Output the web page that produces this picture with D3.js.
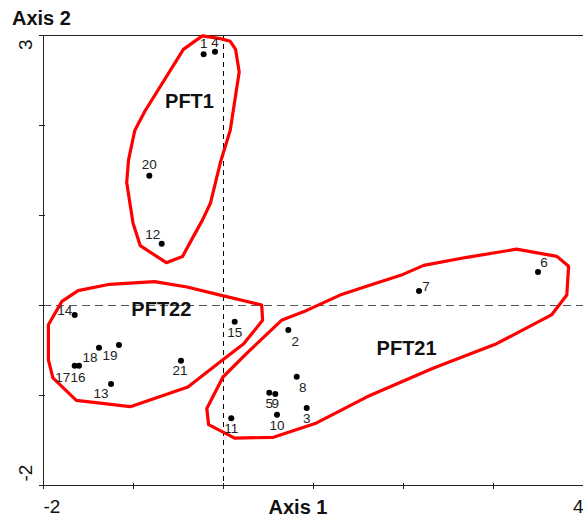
<!DOCTYPE html>
<html>
<head>
<meta charset="utf-8">
<script src="https://cdn.jsdelivr.net/npm/d3@7"></script>
<style>
  body { margin: 0; background: #fff; }
  svg { display: block; font-family: "Liberation Sans", Arial, sans-serif; }
</style>
</head>
<body>
<div id="scatter"></div>
<script>
// Site ordination scores (Axis 1, Axis 2)
var siteIds = ["1", "4", "20", "12", "14", "18", "19", "17", "16", "13", "21",
  "15", "2", "8", "5", "9", "3", "10", "11", "7", "6"];
var axis1 = [-0.215, -0.089, -0.819, -0.681, -1.648, -1.378, -1.156, -1.648, -1.6, -1.244, -0.467,
  0.13, 0.726, 0.819, 0.514, 0.581, 0.93, 0.6, 0.092, 2.178, 3.5];
var axis2 = [2.786, 2.815, 1.437, 0.681, -0.111, -0.474, -0.444, -0.674, -0.674, -0.878, -0.619,
  -0.186, -0.278, -0.796, -0.974, -0.989, -1.144, -1.219, -1.259, 0.156, 0.367];

// Group outlines (hull vertices in axis units)
var groupNames = ["PFT1", "PFT22", "PFT21"];
var pft1Hull = [[-0.23, 2.99], [-0.03, 2.96], [0.08, 2.93], [0.14, 2.84], [0.18, 2.59], [0.08, 1.94],
  [-0.03, 1.58], [-0.14, 1.13], [-0.23, 0.94], [-0.33, 0.76], [-0.45, 0.54], [-0.63, 0.47],
  [-0.92, 0.66], [-1.0, 0.91], [-1.07, 1.36], [-1.05, 1.61], [-0.98, 1.94], [-0.87, 2.15], [-0.44, 2.84]];
var pft22Hull = [[-1.61, 0.16], [-1.26, 0.23], [-0.76, 0.26], [-0.4, 0.2], [-0.03, 0.11], [0.43, 0.0],
  [0.44, -0.17], [0.23, -0.43], [-0.03, -0.63], [-0.39, -0.91], [-1.03, -1.13], [-1.63, -1.06],
  [-1.89, -0.81], [-1.94, -0.61], [-1.94, -0.22], [-1.79, 0.04]];
var pft21Hull = [[0.65, -0.17], [0.93, -0.06], [1.3, 0.11], [1.63, 0.22], [2.0, 0.34], [2.23, 0.44],
  [2.71, 0.53], [3.26, 0.62], [3.71, 0.54], [3.84, 0.43], [3.82, 0.11], [3.65, -0.11], [3.04, -0.43],
  [2.34, -0.7], [1.6, -1.02], [1.04, -1.31], [0.56, -1.47], [0.13, -1.48], [-0.16, -1.33],
  [-0.18, -1.15], [0.0, -0.8], [0.26, -0.54]];
var groupLabelX = [-0.372, -0.685, 2.04];
var groupLabelY = [2.19, -0.119, -0.556];

// Axis ticks
var xTicks = [-2, -1, 0, 1, 2, 3, 4];
var yTicks = [-2, -1, 0, 1, 2, 3];
var xTickLabels = [-2, 4];
var yTickLabels = [-2, 3];

// label offsets around each point (px)
var labelDx = [0, 0, 0, -9, -10, -9, -9, -12, -1, -10, -1, 0, 7, 6, 0, 0, 0, 0, 0, 7, 6];
var labelDy = [-6, -5, -7, -5, 0, 14, 15, 16, 16, 14, 14, 15, 16, 15, 15, 14, 15, 15, 15, 0, -5];

var svgWidth = 583;
var svgHeight = 517;

var margin = { top: 35, right: 0, bottom: 32, left: 43 };
var width = svgWidth - margin.left - margin.right;
var height = svgHeight - margin.top - margin.bottom;

var svg = d3.select("#scatter")
  .append("svg")
  .attr("width", svgWidth)
  .attr("height", svgHeight);

var chartGroup = svg.append("g")
  .attr("transform", `translate(${margin.left}, ${margin.top})`);

var xScale = d3.scaleLinear().domain([-2, 4]).range([0, width]);
var yScale = d3.scaleLinear().domain([-2, 3]).range([height, 0]);

// dashed zero lines
chartGroup.append("line")
  .attr("x1", 0).attr("x2", width)
  .attr("y1", yScale(0) + 0.5).attr("y2", yScale(0) + 0.5)
  .attr("stroke", "#555").attr("stroke-width", 1)
  .attr("stroke-dasharray", "8,5");

chartGroup.append("line")
  .attr("x1", xScale(0) + 0.5).attr("x2", xScale(0) + 0.5)
  .attr("y1", 0).attr("y2", height)
  .attr("stroke", "#000").attr("stroke-width", 1)
  .attr("stroke-dasharray", "5,4");

// top frame line
chartGroup.append("line")
  .attr("x1", 0).attr("x2", width)
  .attr("y1", 0.5).attr("y2", 0.5)
  .attr("stroke", "#222");

// bottom axis
var bottomAxis = d3.axisBottom(xScale)
  .tickValues(xTicks)
  .tickSize(4)
  .tickSizeOuter(0)
  .tickFormat(d => xTickLabels.includes(d) ? d : "");

var xAxis = chartGroup.append("g")
  .attr("transform", `translate(0, ${height})`)
  .call(bottomAxis);

xAxis.select(".domain").attr("stroke", "#222");
xAxis.selectAll(".tick line").attr("y1", -2).attr("stroke", "#222");
xAxis.selectAll(".tick text")
  .attr("y", 28)
  .attr("dy", 0)
  .attr("font-size", 19)
  .attr("font-family", "Liberation Sans, Arial, sans-serif")
  .attr("fill", "#111")
  .attr("text-anchor", d => d === 4 ? "end" : "start");

// left axis
var leftAxis = d3.axisLeft(yScale)
  .tickValues(yTicks)
  .tickSize(4)
  .tickSizeOuter(0)
  .tickFormat(d => yTickLabels.includes(d) ? d : "");

var yAxis = chartGroup.append("g")
  .call(leftAxis);

yAxis.select(".domain").attr("stroke", "#222");
yAxis.selectAll(".tick line").attr("x1", 2).attr("stroke", "#222");
yAxis.selectAll(".tick text")
  .attr("transform", "rotate(-90)")
  .attr("x", d => d === 3 ? -4 : 4)
  .attr("y", -11)
  .attr("dy", 0)
  .attr("font-size", 19)
  .attr("font-family", "Liberation Sans, Arial, sans-serif")
  .attr("fill", "#111")
  .attr("text-anchor", d => d === 3 ? "end" : "start");

// axis titles
svg.append("text")
  .attr("x", 12)
  .attr("y", 25)
  .attr("font-size", 20)
  .attr("font-weight", "bold")
  .attr("fill", "#111")
  .text("Axis 2");

svg.append("text")
  .attr("x", 298)
  .attr("y", 514)
  .attr("text-anchor", "middle")
  .attr("font-size", 20)
  .attr("font-weight", "bold")
  .attr("fill", "#111")
  .text("Axis 1");

// group outlines
var hullLine = d3.line()
  .x(d => xScale(d[0]))
  .y(d => yScale(d[1]))
  .curve(d3.curveLinearClosed);

chartGroup.selectAll(".hull")
  .data([pft1Hull, pft22Hull, pft21Hull])
  .enter()
  .append("path")
  .attr("class", "hull")
  .attr("d", hullLine)
  .attr("fill", "none")
  .attr("stroke", "#ff0000")
  .attr("stroke-width", 3.2)
  .attr("stroke-linejoin", "round");

// points
var siteData = siteIds.map((id, i) => ({ id: id, x: axis1[i], y: axis2[i], dx: labelDx[i], dy: labelDy[i] }));

chartGroup.selectAll("circle")
  .data(siteData)
  .enter()
  .append("circle")
  .attr("cx", d => xScale(d.x))
  .attr("cy", d => yScale(d.y))
  .attr("r", 3)
  .attr("fill", "#000");

chartGroup.selectAll(".site-label")
  .data(siteData)
  .enter()
  .append("text")
  .attr("class", "site-label")
  .attr("x", d => xScale(d.x) + d.dx)
  .attr("y", d => yScale(d.y) + d.dy)
  .attr("text-anchor", "middle")
  .attr("font-size", 13.5)
  .attr("fill", "#222")
  .text(d => d.id);

// group names
chartGroup.selectAll(".group-label")
  .data(groupNames)
  .enter()
  .append("text")
  .attr("class", "group-label")
  .attr("x", (d, i) => xScale(groupLabelX[i]))
  .attr("y", (d, i) => yScale(groupLabelY[i]))
  .attr("text-anchor", "middle")
  .attr("font-size", 20)
  .attr("font-weight", "bold")
  .attr("fill", "#111")
  .text(d => d);
</script>
</body>
</html>
